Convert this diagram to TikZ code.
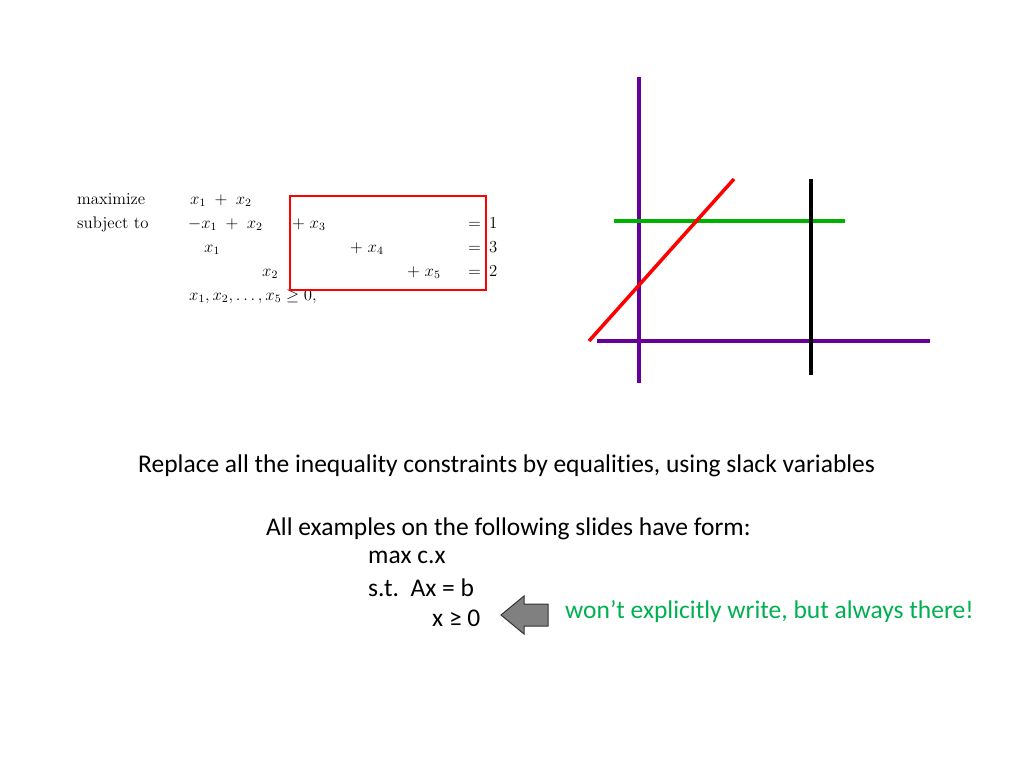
\documentclass[tikz,border=0pt]{standalone}
\usepackage{fontspec}
\setmainfont[Ligatures=NoCommon]{Carlito}
\newfontfamily\lmfont{Latin Modern Roman}
\newcommand{\lpt}[1]{\scalebox{1.4}{\fontsize{12}{14}\selectfont\lmfont #1}}
\begin{document}
\begin{tikzpicture}[x=1pt,y=-1pt,
  lp/.style={anchor=base west,inner sep=0pt},
  tx/.style={anchor=base west,inner sep=0pt,font=\fontsize{25.5}{30}\selectfont},
  ln/.style={line width=3.5pt}]
\useasboundingbox (0,0) rectangle (1024,768);
% LP
\node[lp] (m) at (77,204) {\lpt{maximize}};
\node[lp] (s) at (77,228) {\lpt{subject to}};
\node[lp] (r1) at (190,204) {\lpt{$x_1\;+\;x_2$}};
\node[lp] (r2a) at (188,228) {\lpt{$-x_1\;+\;x_2$}};
\node[lp] (r2b) at (292,228) {\lpt{$+\;x_3$}};
\node[lp] (e1) at (468,228) {\lpt{$=$}};
\node[lp] (v1) at (489,228) {\lpt{$1$}};
\node[lp] (r3a) at (204,252) {\lpt{$x_1$}};
\node[lp] (r3b) at (350,252) {\lpt{$+\;x_4$}};
\node[lp] (e2) at (468,252) {\lpt{$=$}};
\node[lp] (v2) at (489,252) {\lpt{$3$}};
\node[lp] (r4a) at (262,276) {\lpt{$x_2$}};
\node[lp] (r4b) at (407,276) {\lpt{$+\;x_5$}};
\node[lp] (e3) at (468,276) {\lpt{$=$}};
\node[lp] (v3) at (489,276) {\lpt{$2$}};
\node[lp] (r5) at (189,300) {\lpt{$x_1,x_2,\ldots,x_5\geq 0,$}};
\draw[red,line width=2pt] (290,196) rectangle (486,290);
% graph
\draw[ln,violet!80!blue] (639,77) -- (639,383);
\draw[ln,violet!80!blue] (597,341) -- (930,341);
\draw[ln,green!70!black] (614,221) -- (845,221);
\draw[ln,black] (811,179) -- (811,375);
\draw[ln,red] (589,341) -- (734,179);
% text
\node[tx] (t1) at (138,472) {Replace all the inequality constraints by equalities, using slack variables};
\node[tx] (t2) at (266,535) {All examples on the following slides have form:};
\node[tx] (t3) at (368,563) {max c.x};
\node[tx] (t4) at (368,596) {s.t.\ \ Ax = b};
\node[tx] (t5) at (432,626) {x ≥ 0};
\node[tx,text={rgb,255:red,0;green,176;blue,80}] (t6) at (565,618) {won’t explicitly write, but always there!};
\draw[fill=gray,draw=gray!40!black,line width=1pt]
  (501,615) -- (524,596) -- (524,604) -- (548,604) -- (548,626) -- (524,626) -- (524,634) -- cycle;
\end{tikzpicture}
\end{document}
